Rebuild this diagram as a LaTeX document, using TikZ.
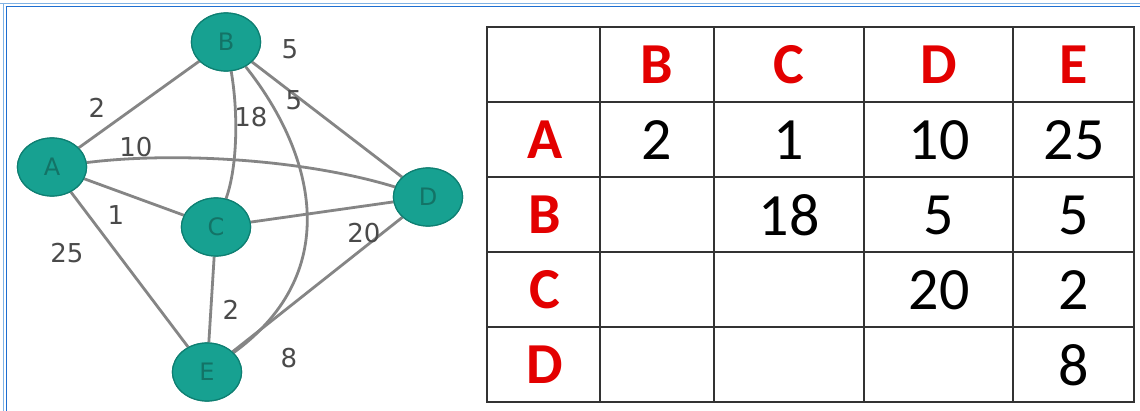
\documentclass[tikz,border=0pt]{standalone}
\usepackage{fontspec}
\setmainfont{Carlito}
\newfontfamily\labelfont{DejaVu Sans}
\usetikzlibrary{shapes.geometric}
\definecolor{nodefill}{HTML}{17A191}
\definecolor{nodeedge}{HTML}{0E7F72}
\definecolor{nodetext}{HTML}{137366}
\definecolor{edgegray}{HTML}{858585}
\definecolor{wtgray}{HTML}{4A4A4A}
\definecolor{gridline}{HTML}{333333}
\definecolor{headred}{HTML}{E30000}
\definecolor{frameout}{HTML}{7FB2E5}
\definecolor{framein}{HTML}{1F6FD1}
\begin{document}
\begin{tikzpicture}[x=1pt,y=-1pt,
  vertex/.style={ellipse,draw=nodeedge,line width=1.2pt,fill=nodefill,
    minimum width=69pt,minimum height=58pt,inner sep=0pt,
    text=nodetext,font=\labelfont\fontsize{24}{24}\selectfont},
  link/.style={draw=edgegray,line width=2.8pt},
  wt/.style={text=wtgray,font=\labelfont\fontsize{26}{26}\selectfont,inner sep=0pt},
  hd/.style={text=headred,font=\bfseries\fontsize{58}{58}\selectfont,inner sep=0pt},
  num/.style={text=black,font=\fontsize{60}{60}\selectfont,inner sep=0pt},
  grid/.style={draw=gridline,line width=2pt}]
\useasboundingbox (0,0) rectangle (1140,411);
\fill[white] (0,0) rectangle (1140,411);

% frame along the top and left edges
\draw[frameout,line width=1.6pt] (0,3.5) -- (1140,3.5);
\draw[framein,line width=1.6pt] (5.5,6.5) -- (1140,6.5);
\draw[frameout,line width=1.6pt] (3.5,3.5) -- (3.5,411);
\draw[framein,line width=1.6pt] (6.5,6.5) -- (6.5,411);

% graph vertices (placed first so the edges can refer to them)
\node[vertex] (A) at (52,167) {A};
\node[vertex] (B) at (226,42) {B};
\node[vertex] (C) at (216,227) {C};
\node[vertex] (D) at (428,197) {D};
\node[vertex] (E) at (207,372) {E};

% weighted edges
\path[link] (A) -- (B);
\path[link] (A) .. controls (170,152) and (300,158) .. (D);
\path[link] (A) -- (C);
\path[link] (A) -- (E);
\path[link] (B) .. controls (238,110) and (238,165) .. (C);
\path[link] (B) .. controls (312,150) and (347,270) .. (E);
\path[link] (B) -- (D);
\path[link] (C) -- (D);
\path[link] (C) -- (E);
\path[link] (E) -- (D);

% redraw vertices above the edges
\node[vertex] at (A) {A};
\node[vertex] at (B) {B};
\node[vertex] at (C) {C};
\node[vertex] at (D) {D};
\node[vertex] at (E) {E};

\node[wt] (wBD) at (290,49) {5};
\node[wt] (wAB) at (97,108) {2};
\node[wt] (wBC) at (251,117) {18};
\node[wt] (wBE) at (294,100) {5};
\node[wt] (wAD) at (136,147) {10};
\node[wt] (wAC) at (116,215) {1};
\node[wt] (wAE) at (67,253) {25};
\node[wt] (wCD) at (364,233) {20};
\node[wt] (wCE) at (231,310) {2};
\node[wt] (wED) at (289,358) {8};

% adjacency table
\draw[grid] (487,27) rectangle (1134,402);
\foreach \x in {600,714,864,1013} \draw[grid] (\x,27) -- (\x,402);
\foreach \y in {102,177,252,327} \draw[grid] (487,\y) -- (1134,\y);

\node[hd] (hB) at (657,65) {B};
\node[hd] (hC) at (789,65) {C};
\node[hd] (hD) at (939,65) {D};
\node[hd] (hE) at (1074,65) {E};
\node[hd] (rA) at (545,140) {A};
\node[hd] (rB) at (545,215) {B};
\node[hd] (rC) at (545,290) {C};
\node[hd] (rD) at (545,365) {D};

\node[num] (cAB) at (657,140) {2};
\node[num] (cAC) at (789,140) {1};
\node[num] (cAD) at (939,140) {10};
\node[num] (cAE) at (1074,140) {25};
\node[num] (cBC) at (789,215) {18};
\node[num] (cBD) at (939,215) {5};
\node[num] (cBE) at (1074,215) {5};
\node[num] (cCD) at (939,290) {20};
\node[num] (cCE) at (1074,290) {2};
\node[num] (cDE) at (1074,365) {8};
\end{tikzpicture}
\end{document}
